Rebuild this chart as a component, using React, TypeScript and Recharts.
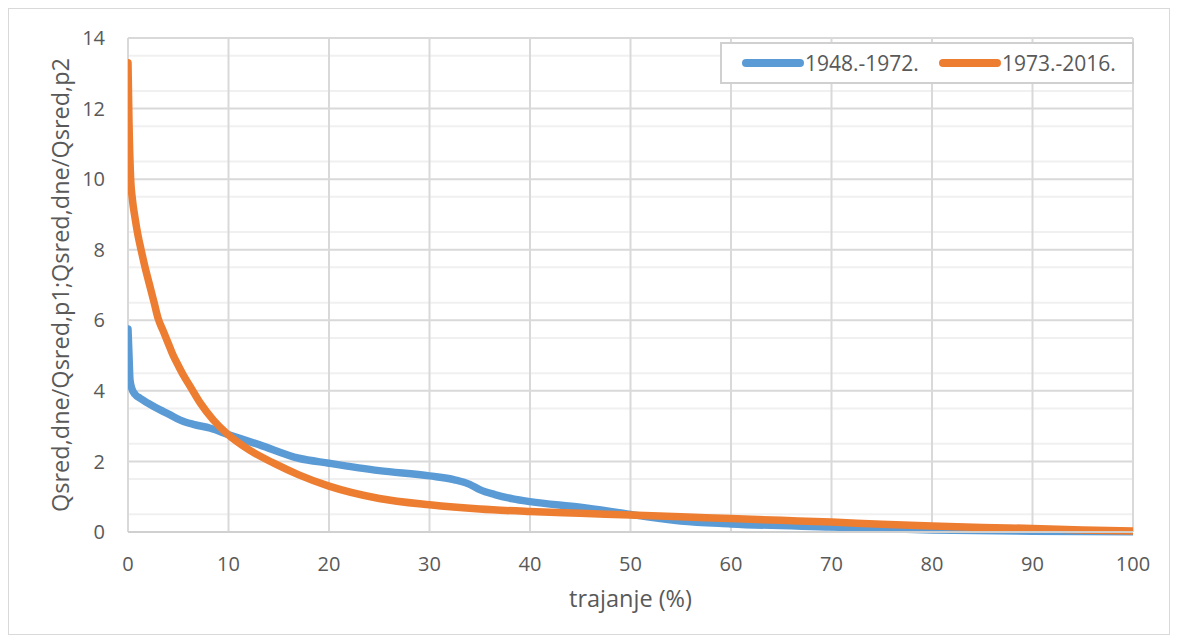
import React from 'react';
import { LineChart, Line, XAxis, YAxis, CartesianGrid, Legend } from 'recharts';

const seriesNames = ['1948.-1972.', '1973.-2016.'];
const seriesColors = ['#5B9BD5', '#ED7D31'];

const durationP1 = [0, 0.1, 0.2, 0.4, 0.7, 1.2, 2, 3.2, 4, 5.2, 6.5, 8.2, 10.1, 13.1, 17, 20, 25, 30, 32.5, 34, 35, 36.5, 38.3, 40, 45, 50, 55, 60, 70, 80, 90, 100];
const ratioP1 = [5.75, 5.0, 4.3, 4.05, 3.9, 3.79, 3.65, 3.46, 3.35, 3.17, 3.05, 2.94, 2.75, 2.47, 2.09, 1.95, 1.74, 1.59, 1.48, 1.35, 1.2, 1.06, 0.94, 0.86, 0.7, 0.5, 0.31, 0.23, 0.14, 0.06, 0.02, 0.01];

const durationP2 = [0, 0.1, 0.25, 0.45, 0.7, 1.0, 1.3, 1.7, 2.15, 2.6, 3.0, 3.5, 4.0, 4.5, 5.0, 5.5, 6.2, 7.2, 8.5, 9.8, 12.1, 14.5, 17, 20, 25, 30, 35, 40, 45, 50, 55, 60, 65, 70, 75, 80, 85, 90, 95, 100];
const ratioP2 = [13.3, 11.6, 10.1, 9.4, 8.9, 8.4, 8.0, 7.5, 7.0, 6.5, 6.05, 5.7, 5.35, 5.0, 4.72, 4.45, 4.12, 3.65, 3.17, 2.8, 2.32, 1.95, 1.62, 1.3, 0.95, 0.77, 0.65, 0.58, 0.53, 0.48, 0.43, 0.38, 0.33, 0.28, 0.22, 0.17, 0.13, 0.1, 0.06, 0.03];

const xTicks = [0, 10, 20, 30, 40, 50, 60, 70, 80, 90, 100];
const yTicks = [0, 2, 4, 6, 8, 10, 12, 14];
const yMinorGrid = [0.5, 1, 1.5, 2.5, 3, 3.5, 4.5, 5, 5.5, 6.5, 7, 7.5, 8.5, 9, 9.5, 10.5, 11, 11.5, 12.5, 13, 13.5];

const xAxisTitle = 'trajanje (%)';
const yAxisTitle = 'Qsred,dne/Qsred,p1;Qsred,dne/Qsred,p2';

const FONT = '"Open Sans", sans-serif';
const TEXT_COLOR = '#595959';
const legendItemLeft = [20, 217];

const dataP1 = durationP1.map((x, i) => ({ x, y: ratioP1[i] }));
const dataP2 = durationP2.map((x, i) => ({ x, y: ratioP2[i] }));

const LegendBox = (props: any) => {
  const payload = props.payload || [];
  return (
    <div
      style={{
        width: 414,
        height: 42,
        boxSizing: 'border-box',
        border: '2px solid #d0d0d0',
        background: '#fff',
        position: 'relative',
        fontFamily: FONT,
        fontSize: 21,
        color: TEXT_COLOR,
      }}
    >
      {payload.map((p: any, i: number) => (
        <div
          key={i}
          style={{ position: 'absolute', left: legendItemLeft[i], top: 0, height: 38, display: 'flex', alignItems: 'center' }}
        >
          <svg width={62} height={12} style={{ marginRight: 1 }}>
            <line x1={4} y1={6} x2={58} y2={6} stroke={p.color} strokeWidth={8} strokeLinecap="round" />
          </svg>
          <span style={{ whiteSpace: 'nowrap' }}>{p.value}</span>
        </div>
      ))}
    </div>
  );
};

export default function App() {
  return (
    <div
      style={{
        width: 1162,
        height: 627,
        boxSizing: 'border-box',
        border: '1px solid #d9d9d9',
        background: '#fff',
        position: 'relative',
      }}
    >
      <LineChart width={1160} height={625} margin={{ top: 29, right: 36, left: 0, bottom: 22 }}>
        <CartesianGrid
          horizontalValues={yMinorGrid}
          vertical={false}
          stroke="#f0f0f0"
          strokeWidth={2}
        />
        <CartesianGrid
          horizontalValues={yTicks}
          verticalValues={xTicks}
          stroke="#d9d9d9"
          strokeWidth={2}
        />
        <XAxis
          type="number"
          dataKey="x"
          domain={[0, 100]}
          ticks={xTicks}
          allowDataOverflow
          tickLine={false}
          axisLine={{ stroke: '#d0d0d0', strokeWidth: 2 }}
          tickMargin={19}
          height={80}
          tick={{ fill: TEXT_COLOR, fontSize: 20, fontFamily: FONT }}
          label={{ value: xAxisTitle, position: 'insideBottom', offset: 5, fill: TEXT_COLOR, fontSize: 23.5, fontFamily: FONT }}
        />
        <YAxis
          type="number"
          domain={[0, 14]}
          ticks={yTicks}
          width={119}
          tickLine={false}
          axisLine={false}
          tickMargin={17}
          tick={{ fill: TEXT_COLOR, fontSize: 20, fontFamily: FONT }}
          label={{ value: yAxisTitle, angle: -90, position: 'center', dx: -8, dy: 0, fill: TEXT_COLOR, fontSize: 23.5, fontFamily: FONT }}
        />
        <Legend
          layout="horizontal"
          verticalAlign="middle"
          align="center"
          wrapperStyle={{ left: 711, top: 33, width: 414, height: 42 }}
          content={<LegendBox />}
        />
        <Line
          data={dataP1}
          dataKey="y"
          name={seriesNames[0]}
          type="monotone"
          stroke={seriesColors[0]}
          strokeWidth={7.5}
          strokeLinecap="round"
          dot={false}
          activeDot={false}
          isAnimationActive={false}
        />
        <Line
          data={dataP2}
          dataKey="y"
          name={seriesNames[1]}
          type="monotone"
          stroke={seriesColors[1]}
          strokeWidth={7.5}
          strokeLinecap="round"
          dot={false}
          activeDot={false}
          isAnimationActive={false}
        />
      </LineChart>
    </div>
  );
}
